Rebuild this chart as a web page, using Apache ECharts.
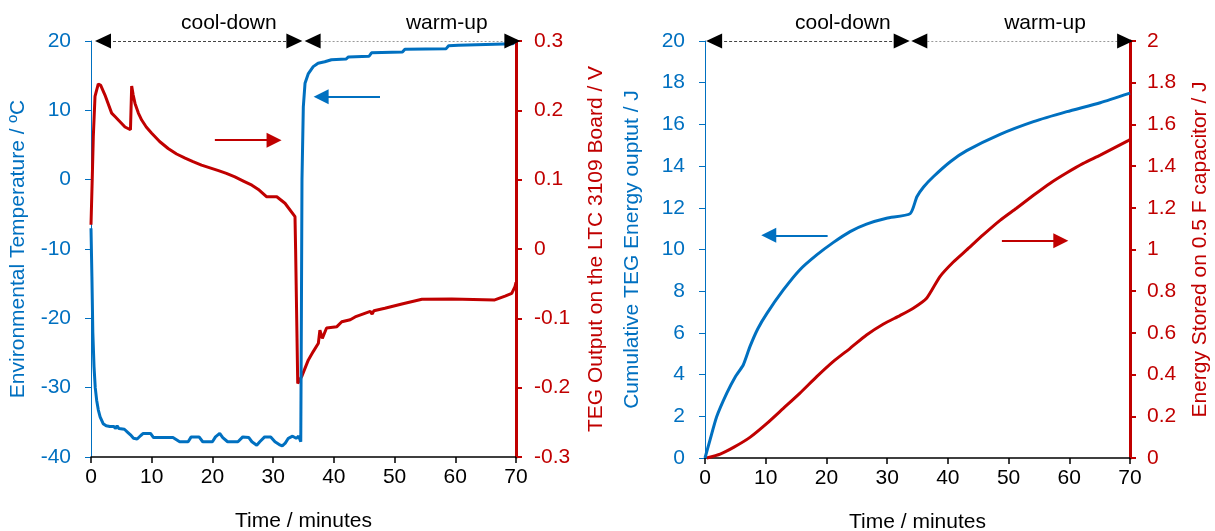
<!DOCTYPE html>
<html><head><meta charset="utf-8">
<script src="https://cdn.jsdelivr.net/npm/echarts@6/dist/echarts.min.js"></script>
<style>html,body{margin:0;padding:0;background:#fff}#c{width:1215px;height:531px}</style>
</head><body><div id="c"></div>
<script>
// ---- Left panel: environmental temperature (°C) ----
const tTemp = [0,0.15,0.3,0.5,0.7,0.93,1.2,1.5,2.0,2.5,3.1,3.8,4.0,4.3,4.6,5.5,6.0,6.5,7.0,7.6,8.2,8.6,9.8,10.3,12.0,13.5,14.6,16.0,16.5,17.8,18.4,20.0,20.5,21.2,21.7,22.5,24.2,25.0,26.0,26.5,27.3,27.8,28.6,29.6,30.3,31.0,31.5,32.0,32.5,33.2,33.8,34.2,34.55,34.65,34.75,34.97,35.25,35.8,36.6,37.4,38.5,39.6,42.0,42.4,45.8,46.2,51.3,51.7,58.5,58.9,60.5,69.5,69.7];
const temp  = [-7,-14,-22,-27,-30,-31.8,-33.2,-34.2,-35.2,-35.5,-35.6,-35.6,-35.9,-35.5,-35.9,-36.0,-36.4,-36.8,-37.3,-37.4,-36.9,-36.6,-36.6,-37.2,-37.2,-37.2,-37.8,-37.8,-37.1,-37.1,-37.8,-37.8,-37.1,-36.6,-37.2,-37.8,-37.8,-37.1,-37.2,-37.8,-38.3,-37.8,-37.1,-37.1,-37.8,-38.2,-38.4,-38.0,-37.3,-37.0,-37.3,-37.0,-37.8,-20,0,10.5,13.9,15.3,16.3,16.8,17.0,17.3,17.4,17.7,17.8,18.3,18.4,18.8,18.9,19.3,19.4,19.6,19.8];
// ---- Left panel: TEG output on LTC 3109 board (V) ----
const tVolt = [0,0.2,0.38,0.66,1.2,1.6,2.3,3.4,3.95,5.6,6.5,6.7,6.95,7.25,7.8,8.35,9.1,10,11.3,12.7,14.1,15.5,16.8,18.2,19.6,21,22.3,23.7,25.1,26.5,27.7,28.9,30.6,31.95,33.6,33.7,33.9,34.05,34.2,34.7,35.8,36.6,37.45,37.7,38.1,38.8,40.5,41.3,42.7,43.5,46.0,46.3,46.6,48.4,51.2,54.5,59.4,66.5,68.2,69.3,69.85,70];
const volt  = [0.035,0.1,0.162,0.22,0.238,0.236,0.222,0.196,0.191,0.176,0.172,0.235,0.222,0.21,0.196,0.186,0.176,0.167,0.155,0.145,0.137,0.131,0.126,0.121,0.117,0.113,0.109,0.104,0.098,0.092,0.085,0.0754,0.0754,0.066,0.0466,0.0,-0.0015,-0.194,-0.196,-0.184,-0.16,-0.148,-0.136,-0.117,-0.129,-0.114,-0.112,-0.105,-0.102,-0.098,-0.09,-0.094,-0.089,-0.0855,-0.0793,-0.0726,-0.0722,-0.0735,-0.068,-0.064,-0.054,-0.048];
// ---- Right panel: cumulative TEG energy output (J) ----
const tCum = [0,0.82,1.92,3.57,5,6.3,7.4,8.7,10.2,12.9,15.6,18.4,21.1,23.9,26.6,29.9,33.8,34.9,36.0,37.6,40.4,43.1,48.6,54.1,59.6,65.1,70];
const cum  = [0,0.86,1.98,3.1,3.9,4.46,5.34,6.2,6.94,8.06,9.02,9.74,10.33,10.86,11.22,11.5,11.72,12.53,13.0,13.49,14.21,14.74,15.52,16.13,16.61,17.04,17.5];
// ---- Right panel: energy stored on 0.5 F capacitor (J) ----
const tStore = [0.27,2.5,4.7,7.4,10.2,12.9,15.6,18.4,21.1,23.9,26.6,29.4,32.1,34.3,36.5,38.7,40.9,43.1,45.8,48.6,51.3,54.1,56.8,59.6,62.3,65.1,69.7,70];
const store  = [0,0.019,0.051,0.099,0.166,0.238,0.31,0.39,0.462,0.526,0.59,0.643,0.683,0.718,0.766,0.87,0.94,0.998,1.07,1.14,1.198,1.26,1.317,1.368,1.413,1.453,1.522,1.527];
// ---- Phase annotations (time in minutes) ----
const phaseNames = ['cool-down','warm-up'];
const phaseLeft  = [[1.98,33.5],[36.5,69.4]];
const phaseLeftLabelT  = [22.7,58.6];
const phaseRight = [[1.5,32.4],[35.3,69.2]];
const phaseRightLabelT = [22.7,56.0];

const BLUE='#0070C0', RED='#C00000', FONT='"Liberation Sans", Arial, sans-serif';
const FS = 21;
const pairs = (xs, ys) => xs.map((x,i)=>[x, ys[i]]);

function xAx(g){
  return {type:'value', gridIndex:g, min:0, max:70, interval:10,
    axisLine:{show:true,onZero:false,lineStyle:{color:'#000',width:1.5}},
    axisTick:{show:true,length:6,lineStyle:{color:'#000',width:1.5}},
    axisLabel:{color:'#000',fontSize:FS,margin:10,fontFamily:FONT},
    splitLine:{show:false},
    name:'Time / minutes', nameLocation:'middle', nameGap:54,
    nameTextStyle:{color:'#000',fontSize:FS,fontFamily:FONT}};
}
function yAx(g,pos,min,max,iv,color,w,name,gap,dec,margin){
  return {type:'value', gridIndex:g, position:pos, min:min, max:max, interval:iv,
    axisLine:{show:true,onZero:false,lineStyle:{color:color,width:w}},
    axisTick:{show:true,length:6,lineStyle:{color:color,width:w>1?2:1}},
    axisLabel:{color:color,fontSize:FS,margin:margin,fontFamily:FONT,
      formatter:v=>String(Math.round(v*Math.pow(10,dec))/Math.pow(10,dec))},
    splitLine:{show:false},
    name:name, nameLocation:'middle', nameGap:gap,
    nameTextStyle:{color:color,fontSize:FS,fontFamily:FONT}};
}
function phaseMarks(ranges, labelTs, top){
  const lines=[], pts=[];
  ranges.forEach((r,i)=>{
    lines.push([{coord:[r[0],top], lineStyle:{type:i===0?[3,2]:[2,2], color:i===0?'#444':'#999', width:1}},{coord:[r[1],top]}]);
    pts.push({coord:[r[0],top], symbol:'triangle', symbolSize:[15,16], symbolRotate:90, itemStyle:{color:'#000'}, label:{show:false}});
    pts.push({coord:[r[1],top], symbol:'triangle', symbolSize:[15,16], symbolRotate:-90, itemStyle:{color:'#000'}, label:{show:false}});
    pts.push({coord:[labelTs[i],top], symbol:'circle', symbolSize:0, itemStyle:{color:'rgba(0,0,0,0)'},
      label:{show:true, formatter:phaseNames[i], position:'inside', offset:[0,-18], color:'#000', fontSize:FS, fontFamily:FONT}});
  });
  return {lines, pts};
}
function arrow(from,to,color){
  return [{coord:from, symbol:'none', lineStyle:{color:color,width:2,type:'solid'}},{coord:to, symbol:'triangle', symbolSize:[15,15]}];
}
const pL = phaseMarks(phaseLeft, phaseLeftLabelT, 20);
const pR = phaseMarks(phaseRight, phaseRightLabelT, 20);

const chart = echarts.init(document.getElementById('c'), null, {renderer:'canvas'});
chart.setOption({
  animation:false,
  backgroundColor:'#fff',
  textStyle:{fontFamily:FONT},
  grid:[{left:91,top:41,width:425,height:416,outerBoundsMode:'none',containLabel:false},
        {left:705,top:41,width:425,height:417,outerBoundsMode:'none',containLabel:false}],
  xAxis:[xAx(0), xAx(1)],
  yAxis:[
    yAx(0,'left',-40,20,10,BLUE,1,'Environmental Temperature / ºC',62,0,20),
    yAx(0,'right',-0.3,0.3,0.1,RED,3,'TEG Output on the LTC 3109 Board / V',70,1,18),
    yAx(1,'left',0,20,2,BLUE,1,'Cumulative TEG Energy ouptut / J',62,0,20),
    yAx(1,'right',0,2,0.2,RED,3,'Energy Stored on 0.5 F capacitor / J',60,1,17)
  ],
  series:[
    {type:'line', xAxisIndex:0, yAxisIndex:1, data:pairs(tVolt,volt), showSymbol:false, clip:false,
     lineStyle:{color:RED,width:3}, itemStyle:{color:RED},
     markLine:{silent:true, animation:false, label:{show:false}, symbolSize:[15,15], data:[arrow([20.4,0.157],[30.15,0.157],RED)]}},
    {type:'line', xAxisIndex:0, yAxisIndex:0, data:pairs(tTemp,temp), showSymbol:false, clip:false,
     lineStyle:{color:BLUE,width:3}, itemStyle:{color:BLUE},
     markLine:{silent:true, animation:false, label:{show:false}, symbol:'none', data:pL.lines.concat([arrow([47.6,11.97],[37.9,11.97],BLUE)])},
     markPoint:{silent:true, animation:false, data:pL.pts}},
    {type:'line', xAxisIndex:1, yAxisIndex:3, data:pairs(tStore,store), showSymbol:false, clip:false,
     smooth:0.2,
     lineStyle:{color:RED,width:3}, itemStyle:{color:RED},
     markLine:{silent:true, animation:false, label:{show:false}, data:[arrow([48.9,1.042],[58.6,1.042],RED)]}},
    {type:'line', xAxisIndex:1, yAxisIndex:2, data:pairs(tCum,cum), showSymbol:false, clip:false,
     smooth:0.2,
     lineStyle:{color:BLUE,width:3}, itemStyle:{color:BLUE},
     markLine:{silent:true, animation:false, label:{show:false}, symbol:'none', data:pR.lines.concat([arrow([20.2,10.68],[10.5,10.68],BLUE)])},
     markPoint:{silent:true, animation:false, data:pR.pts}}
  ]
});
</script></body></html>
